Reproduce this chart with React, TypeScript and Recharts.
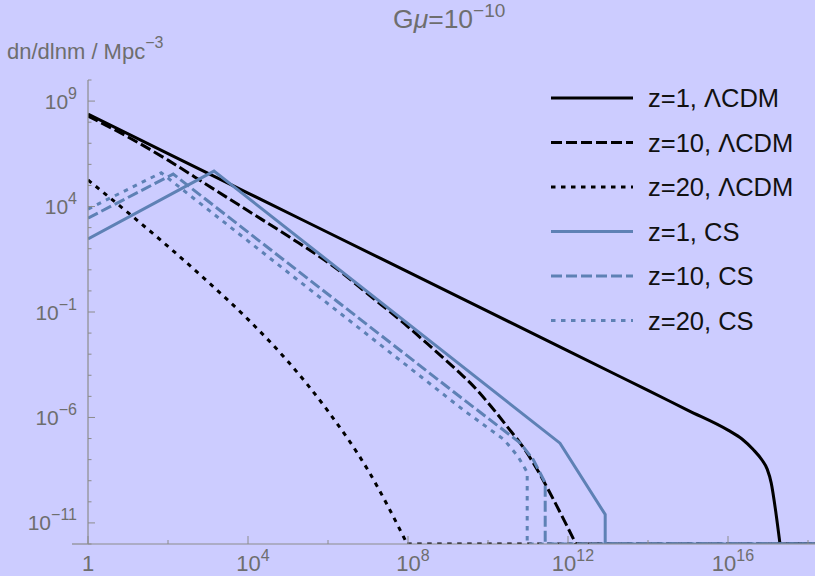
import React from 'react';
import { LineChart, Line, XAxis, YAxis, ReferenceLine } from 'recharts';

// values are log10(m) and log10(dn/dlnm)
// (the plot floor is 10^-12: curves run along the axis past that)
const lcdmZ1 = [
  { m: 0, n: 8.38 }, { m: 2, n: 6.51 }, { m: 4, n: 4.64 }, { m: 6, n: 2.77 },
  { m: 8, n: 0.9 }, { m: 10, n: -0.97 }, { m: 12, n: -2.84 }, { m: 14, n: -4.72 },
  { m: 15, n: -5.66 }, { m: 16, n: -6.6 }, { m: 16.35, n: -7.02 }, { m: 16.63, n: -7.52 },
  { m: 16.85, n: -8.02 }, { m: 16.98, n: -8.45 }, { m: 17.08, n: -9.1 }, { m: 17.2, n: -10.55 },
  { m: 17.3, n: -12 }, { m: 18.2, n: -12 },
];
const lcdmZ10 = [
  { m: 0, n: 8.29 }, { m: 1, n: 7.3 }, { m: 2, n: 6.2 }, { m: 3, n: 5.0 },
  { m: 4, n: 3.8 }, { m: 5, n: 2.6 }, { m: 6.3, n: 0.93 }, { m: 7, n: -0.15 },
  { m: 8, n: -1.7 }, { m: 8.3, n: -2.2 }, { m: 9.3, n: -3.9 }, { m: 9.55, n: -4.35 },
  { m: 10, n: -5.3 }, { m: 10.55, n: -6.6 }, { m: 10.8, n: -7.2 }, { m: 11.3, n: -8.7 },
  { m: 11.5, n: -9.4 }, { m: 12.2, n: -12 }, { m: 18.2, n: -12 },
];
const lcdmZ20 = [
  { m: 0, n: 5.26 }, { m: 1, n: 3.71 }, { m: 2, n: 2.11 }, { m: 3, n: 0.43 },
  { m: 4, n: -1.35 }, { m: 5, n: -3.35 }, { m: 6, n: -5.7 }, { m: 7, n: -8.5 },
  { m: 7.98, n: -12 }, { m: 18.2, n: -12 },
];
const csZ1 = [
  { m: 0, n: 2.46 }, { m: 3.15, n: 5.68 }, { m: 11.8, n: -7.22 }, { m: 12.93, n: -10.6 },
  { m: 12.93, n: -12 }, { m: 18.2, n: -12 },
];
const csZ10 = [
  { m: 0, n: 3.45 }, { m: 2.13, n: 5.54 }, { m: 9.3, n: -5.02 }, { m: 10.8, n: -7.2 },
  { m: 11.13, n: -8.0 }, { m: 11.43, n: -9.1 }, { m: 11.43, n: -12 }, { m: 18.2, n: -12 },
];
const csZ20 = [
  { m: 0, n: 3.88 }, { m: 1.83, n: 5.6 }, { m: 9.38, n: -5.64 }, { m: 10.4, n: -7.05 },
  { m: 10.75, n: -7.85 }, { m: 10.98, n: -8.6 }, { m: 10.98, n: -12 }, { m: 18.2, n: -12 },
];

const xTicks = [0, 2, 4, 6, 8, 10, 12, 14, 16, 18];
const yTicks = [-12, -11, -10, -9, -8, -7, -6, -5, -4, -3, -2, -1, 0, 1, 2, 3, 4, 5, 6, 7, 8, 9, 10];
const floor = -12;

const black = '#000000';
const blue = '#5e81b5';
const dash = '11 4';
const dot = '4.5 5.5';

// smooth curves for the ΛCDM ones, straight pieces for CS
const series = [
  { name: 'z=1, ΛCDM', data: lcdmZ1, color: black, dash: undefined, curve: 'monotone' },
  { name: 'z=10, ΛCDM', data: lcdmZ10, color: black, dash: dash, curve: 'monotone' },
  { name: 'z=20, ΛCDM', data: lcdmZ20, color: black, dash: dot, curve: 'monotone' },
  { name: 'z=1, CS', data: csZ1, color: blue, dash: undefined, curve: 'linear' },
  { name: 'z=10, CS', data: csZ10, color: blue, dash: dash, curve: 'linear' },
  { name: 'z=20, CS', data: csZ20, color: blue, dash: dot, curve: 'linear' },
];

// split a curve where it hits the floor, so the smooth part keeps its slope there
const splitAtFloor = (pts: { m: number; n: number }[]) => {
  const i = pts.findIndex((p) => p.n <= floor);
  if (i < 0) return [pts, []];
  return [pts.slice(0, i + 1), pts.slice(i)];
};

const font = '"Liberation Sans", Arial, sans-serif';
const axisColor = '#8c8c8c';
const labelColor = '#6e6e6e';

const XTick = (props: any) => {
  const { x, y, payload } = props;
  const v = payload.value;
  const major = v % 4 === 0;
  return (
    <g>
      <line x1={x} x2={x} y1={y} y2={y - (major ? 8 : 4)} stroke={axisColor} strokeWidth={1} />
      {major && v === 0 && (
        <text x={x} y={y + 27} textAnchor="middle" fontSize={22} fill={labelColor} fontFamily={font}>1</text>
      )}
      {major && v !== 0 && (
        <text x={x + 5} y={y + 27} textAnchor="middle" fontSize={22} fill={labelColor} fontFamily={font}>
          <tspan>10</tspan>
          <tspan dy={-10} fontSize={16}>{v}</tspan>
        </text>
      )}
    </g>
  );
};

const YTick = (props: any) => {
  const { x, y, payload } = props;
  const v = payload.value;
  const major = (v + 11) % 5 === 0;
  return (
    <g>
      <line x1={x} x2={x + (major ? 7 : 3.5)} y1={y} y2={y} stroke={axisColor} strokeWidth={1} />
      {major && (
        <text x={x - 11} y={y + 7.5} textAnchor="end" fontSize={21} fill={labelColor} fontFamily={font}>
          <tspan>10</tspan>
          <tspan dy={-10} fontSize={16}>{v < 0 ? '−' + Math.abs(v) : v}</tspan>
        </text>
      )}
    </g>
  );
};

export default function App() {
  const lines: React.ReactNode[] = [];
  series.forEach((s) => {
    const parts = s.curve === 'monotone' ? splitAtFloor(s.data) : [s.data, []];
    parts.forEach((part, k) => {
      if (part.length < 2) return;
      lines.push(
        <Line
          key={s.name + k}
          data={part}
          dataKey="n"
          name={s.name}
          type={(k === 0 ? s.curve : 'linear') as any}
          stroke={s.color}
          strokeWidth={3}
          strokeDasharray={s.dash}
          dot={false}
          activeDot={false}
          isAnimationActive={false}
        />
      );
    });
  });

  return (
    <div style={{ position: 'fixed', left: 0, top: 0, width: 815, height: 576, background: '#ccccff', overflow: 'hidden' }}>
      <LineChart width={815} height={576} margin={{ top: 80, right: 0, bottom: 0, left: 0 }}>
        <XAxis
          type="number"
          dataKey="m"
          domain={[0, 18.175]}
          ticks={xTicks}
          interval={0}
          allowDataOverflow
          height={32}
          tickSize={0}
          tickMargin={0}
          tickLine={false}
          tick={<XTick />}
          axisLine={{ stroke: axisColor, strokeWidth: 1.2 }}
        />
        <YAxis
          type="number"
          domain={[floor, 10]}
          ticks={yTicks}
          interval={0}
          allowDataOverflow
          width={88}
          tickSize={0}
          tickMargin={0}
          tickLine={false}
          tick={<YTick />}
          axisLine={{ stroke: axisColor, strokeWidth: 1.2 }}
        />
        <ReferenceLine
          segment={[{ x: -0.4, y: floor }, { x: 0, y: floor }]}
          stroke={axisColor}
          strokeWidth={1.2}
          ifOverflow="visible"
        />
        {lines}
      </LineChart>
      <svg width={815} height={576} style={{ position: 'absolute', left: 0, top: 0, pointerEvents: 'none' }}>
        <text x={393} y={28} fontSize={26.5} fill={labelColor} fontFamily={font}>
          <tspan>G</tspan>
          <tspan fontStyle="italic">μ</tspan>
          <tspan>=10</tspan>
          <tspan dy={-11} fontSize={19}>−10</tspan>
        </text>
        <text x={7} y={59} fontSize={22} fill={labelColor} fontFamily={font}>
          <tspan>dn/dlnm / Mpc</tspan>
          <tspan dy={-11} fontSize={16}>−3</tspan>
        </text>
        {series.map((s, i) => {
          const cy = 98 + i * 44.5;
          return (
            <g key={s.name}>
              <line x1={551} x2={633} y1={cy} y2={cy} stroke={s.color} strokeWidth={3} strokeDasharray={s.dash} />
              <text x={648} y={cy + 9} fontSize={25.5} fill="#111" fontFamily={font}>{s.name}</text>
            </g>
          );
        })}
      </svg>
    </div>
  );
}
